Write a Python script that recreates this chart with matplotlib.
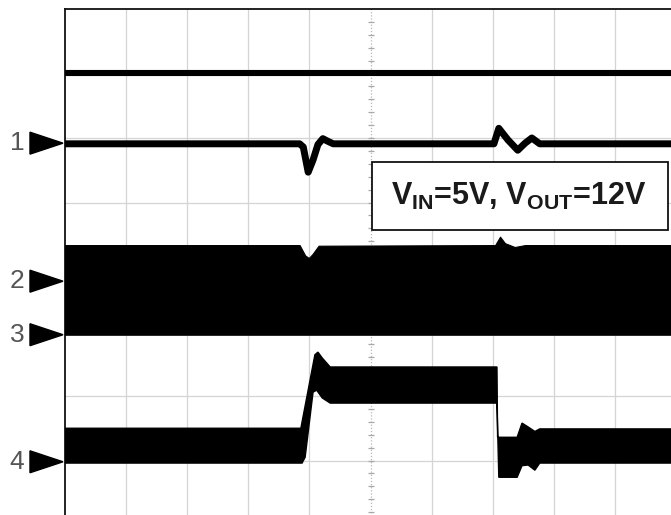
import matplotlib
matplotlib.use('Agg')
import matplotlib.pyplot as plt
from matplotlib.patches import Polygon, Rectangle

plt.rcParams['font.family'] = ['Liberation Sans', 'DejaVu Sans']
plt.rcParams['mathtext.fontset'] = 'custom'
plt.rcParams['mathtext.rm'] = 'Liberation Sans:bold'
plt.rcParams['mathtext.bf'] = 'Liberation Sans:bold'

# ---- data (time and level in scope divisions) ----
# top trace (flat band)
top_t = [0, 10]
top_hi = [7.06, 7.06]
top_lo = [6.97, 6.97]

# channel 1 (thin trace with two transients)
ch1_t = [0, 3.84, 3.90, 3.98, 4.06, 4.14, 4.22, 4.30, 4.39, 7.02, 7.10, 7.25, 7.41, 7.53, 7.64, 7.77, 10]
ch1_v = [5.91, 5.91, 5.86, 5.47, 5.66, 5.90, 5.99, 5.95, 5.91, 5.91, 6.15, 5.97, 5.81, 5.92, 6.00, 5.91, 5.91]

# channel 2/3 (switching band)
ch2_t = [0, 3.84, 3.93, 3.99, 4.05, 4.15, 7.04, 7.12, 7.20, 7.36, 7.53, 10]
ch2_hi = [4.34, 4.34, 4.18, 4.14, 4.20, 4.33, 4.34, 4.47, 4.37, 4.31, 4.34, 4.34]
ch2_lo_level = 2.95

# channel 4 (load-step band) upper and lower envelopes
ch4_up_t = [0, 3.86, 4.09, 4.14, 4.21, 4.34, 7.07, 7.08, 7.40, 7.48, 7.58, 7.69, 7.77, 10]
ch4_up_v = [1.50, 1.50, 2.64, 2.68, 2.59, 2.45, 2.45, 1.36, 1.36, 1.58, 1.52, 1.45, 1.49, 1.49]
ch4_lo_t = [0, 3.88, 3.93, 4.06, 4.12, 4.21, 4.34, 7.07, 7.10, 7.40, 7.48, 7.58, 7.69, 7.77, 10]
ch4_lo_v = [0.96, 0.96, 1.05, 2.06, 2.09, 1.97, 1.89, 1.89, 0.74, 0.74, 0.92, 0.93, 0.85, 0.96, 0.96]

marker_labels = ['1', '2', '3', '4']
marker_levels = [5.92, 3.78, 2.95, 0.98]

label_text = r'V$_{\mathrm{IN}}$=5V, V$_{\mathrm{OUT}}$=12V'

# ---- figure ----
fig = plt.figure(figsize=(6.71, 5.15), dpi=100)
ax = fig.add_axes([65/671, -10/515, 611/671, 516/515])
ax.set_xlim(0, 10)
ax.set_ylim(0, 8)

grid_c = '#d4d4d4'
for gx in range(1, 10):
    if gx == 5:
        ax.axvline(gx, color='#b8b8b8', lw=0.9, ls=(0, (1, 1.5)), zorder=1)
    else:
        ax.axvline(gx, color=grid_c, lw=0.9, zorder=1)
for gy in range(1, 8):
    if gy == 4:
        ax.axhline(gy, color='#b8b8b8', lw=0.9, ls=(0, (1, 1.5)), zorder=1)
    else:
        ax.axhline(gy, color=grid_c, lw=0.9, zorder=1)
# minor ticks on centre lines
minor = [i * 0.2 for i in range(1, 50)]
vminor = [m for m in minor if m < 8]
ax.plot([5] * len(vminor), vminor, ls='none',
        marker='_', ms=5, mew=0.9, color='#a8a8a8', zorder=1)
ax.plot(minor, [4] * len(minor), ls='none', marker='|', ms=5, mew=0.9, color='#a8a8a8', zorder=1)

ax.set_xticks([])
ax.set_yticks([])
for s in ['right', 'bottom']:
    ax.spines[s].set_visible(False)
for s in ['left', 'top']:
    ax.spines[s].set_linewidth(1.3)
    ax.spines[s].set_color('#111111')

# traces
ax.fill_between(top_t, top_lo, top_hi, color='black', lw=0.8, zorder=3)
ax.plot(ch1_t, ch1_v, color='black', lw=5.0, solid_joinstyle='round', solid_capstyle='butt', zorder=3)
ax.fill_between(ch2_t, [ch2_lo_level] * len(ch2_t), ch2_hi, color='black', lw=0.8, zorder=3)
ax.fill(ch4_up_t + ch4_lo_t[::-1], ch4_up_v + ch4_lo_v[::-1], color='black', lw=1.0, zorder=3)

# channel markers
ytr = ax.get_yaxis_transform()
for lab, lv in zip(marker_labels, marker_levels):
    tri = Polygon([(-0.0573, lv + 0.17), (-0.0033, lv), (-0.0573, lv - 0.17)],
                  closed=True, transform=ytr, clip_on=False, color='black', zorder=5)
    ax.add_patch(tri)
    ax.text(-0.0786, lv, lab, transform=ytr, ha='center', va='center',
            fontsize=19, color='#555555', clip_on=False)

# annotation box
ax.add_patch(Rectangle((5.02, 4.57), 4.85, 1.06, facecolor='white', edgecolor='#111111',
                       lw=1.3, zorder=6))
ax.text(7.43, 4.96, label_text, ha='center', va='baseline', fontsize=22,
        fontweight='bold', color='#1a1a1a', zorder=7)

fig.savefig('out.png', dpi=100)
